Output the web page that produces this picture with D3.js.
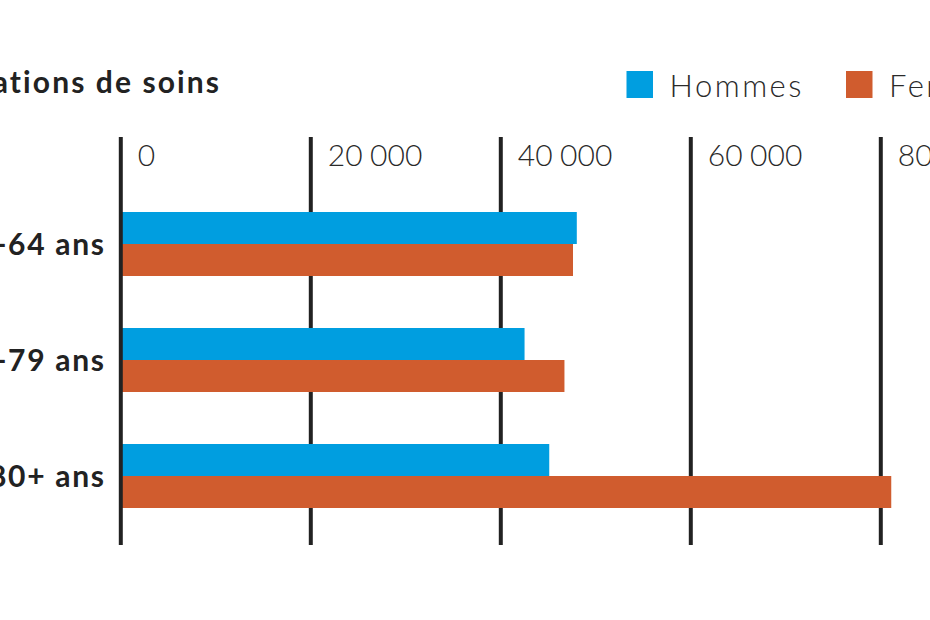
<!DOCTYPE html>
<html>
<head>
<meta charset="utf-8">
<script src="https://cdn.jsdelivr.net/npm/d3@7"></script>
<style>
  html, body { margin: 0; padding: 0; background: #fff; overflow: hidden; }
  svg { display: block; font-family: Lato, "Open Sans", sans-serif; }
</style>
</head>
<body>
<svg id="chart" width="930" height="620"></svg>
<script>
const title = "Consultations de soins";
const categories = ["50-64 ans", "65-79 ans", "80+ ans"];
const seriesNames = ["Hommes", "Femmes"];
const hommes = [48000, 42500, 45100];
const femmes = [47600, 46700, 81100];
const tickValues = [0, 20000, 40000, 60000, 80000];
const tickLabels = ["0", "20\u202f000", "40\u202f000", "60\u202f000", "80\u202f000"];
const colors = ["#009ee0", "#d05c2e"];

const svg = d3.select("#chart");
svg.append("rect").attr("width", 930).attr("height", 620).attr("fill", "#fff");

const x = d3.scaleLinear().domain([0, 80000]).range([120.8, 880.8]);
const y = d3.scalePoint().domain(categories).range([244, 476]);
const sub = d3.scaleBand().domain(seriesNames).range([-32, 32]);
const color = d3.scaleOrdinal().domain(seriesNames).range(colors);

const gridTop = 137, gridBottom = 545;

// gridlines
svg.append("g").selectAll("line")
  .data(tickValues.slice(1))
  .join("line")
  .attr("x1", d => x(d)).attr("x2", d => x(d))
  .attr("y1", gridTop).attr("y2", gridBottom)
  .attr("stroke", "#222").attr("stroke-width", 4);

// tick labels
svg.append("g").selectAll("text")
  .data(tickValues)
  .join("text")
  .attr("x", d => x(d) + 17)
  .attr("y", 166)
  .attr("font-size", 30)
  .attr("font-weight", 300)
  .attr("letter-spacing", 2.2)
  .attr("fill", "#2a2a2a")
  .text((d, i) => tickLabels[i]);

// bars
const rows = categories.map((c, i) => ({ cat: c, values: [hommes[i], femmes[i]] }));
const groups = svg.append("g").selectAll("g")
  .data(rows)
  .join("g")
  .attr("transform", d => `translate(0,${y(d.cat)})`);
groups.selectAll("rect")
  .data(d => d.values.map((v, j) => ({ s: seriesNames[j], v })))
  .join("rect")
  .attr("x", x(0))
  .attr("y", d => sub(d.s))
  .attr("width", d => x(d.v) - x(0))
  .attr("height", sub.bandwidth())
  .attr("fill", d => color(d.s));

// zero line on top
svg.append("line")
  .attr("x1", x(0)).attr("x2", x(0))
  .attr("y1", gridTop).attr("y2", gridBottom)
  .attr("stroke", "#222").attr("stroke-width", 4);

// category labels
svg.append("g").selectAll("text")
  .data(categories)
  .join("text")
  .attr("x", 104 + 1.7)
  .attr("y", d => y(d) + 11)
  .attr("text-anchor", "end")
  .attr("font-size", 30)
  .attr("font-weight", 700)
  .attr("letter-spacing", 1.7)
  .attr("fill", "#222")
  .text(d => d);

// title
svg.append("text")
  .attr("x", 219 + 2.1).attr("y", 93)
  .attr("text-anchor", "end")
  .attr("font-size", 30)
  .attr("font-weight", 700)
  .attr("letter-spacing", 2.1)
  .attr("fill", "#222")
  .text(title);

// legend
const legendX = [626.5, 846];
const lg = svg.append("g").selectAll("g")
  .data(seriesNames)
  .join("g")
  .attr("transform", (d, i) => `translate(${legendX[i]},71)`);
lg.append("rect")
  .attr("width", 26.5).attr("height", 27)
  .attr("fill", d => color(d));
lg.append("text")
  .attr("x", 43).attr("y", 26)
  .attr("font-size", 31)
  .attr("font-weight", 300)
  .attr("letter-spacing", 2.5)
  .attr("fill", "#2a2a2a")
  .text(d => d);
</script>
</body>
</html>
